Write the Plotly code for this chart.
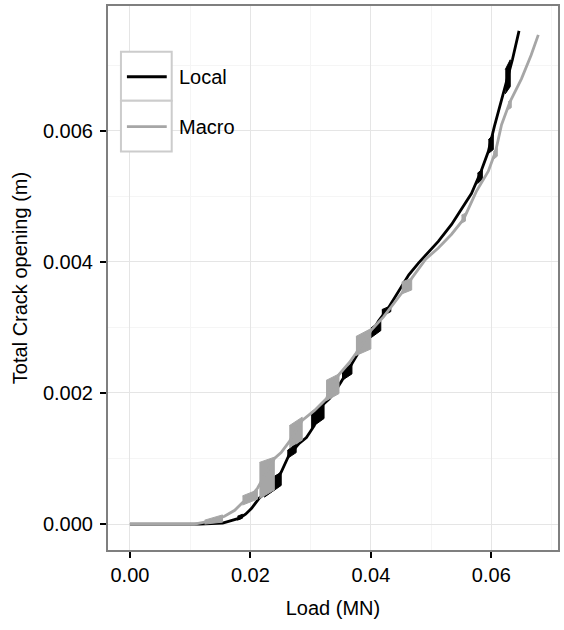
import plotly.graph_objects as go

# ---- data (Load in MN, total crack opening in m) ----
local_load = [0.0, 0.0116, 0.0154, 0.0169, 0.0182, 0.0192, 0.0202, 0.0215, 0.0231, 0.0251,
              0.0264, 0.0281, 0.0293, 0.0306, 0.0319, 0.0331, 0.0342, 0.0352, 0.0364, 0.0375,
              0.0388, 0.0400, 0.0413, 0.0430, 0.0446, 0.0463, 0.0479, 0.0496, 0.0512, 0.0534,
              0.0550, 0.0567, 0.0583, 0.0595, 0.0605, 0.0615, 0.0625, 0.0635, 0.0646]
local_open = [0.0, 0.0, 0.000015, 0.00005, 0.00009, 0.00015, 0.00024, 0.00040, 0.00052, 0.00079,
              0.00105, 0.00123, 0.00132, 0.00150, 0.00181, 0.00191, 0.00204, 0.00219, 0.00237, 0.00254,
              0.00275, 0.00290, 0.00310, 0.00331, 0.00355, 0.00380, 0.00398, 0.00415, 0.00431, 0.00457,
              0.00480, 0.00504, 0.00538, 0.00568, 0.00606, 0.00640, 0.00674, 0.00708, 0.00752]

macro_load = [0.0, 0.0107, 0.0124, 0.0140, 0.0157, 0.0174, 0.0187, 0.0202, 0.0212, 0.0240,
              0.0251, 0.0264, 0.0286, 0.0306, 0.0326, 0.0336, 0.0347, 0.0364, 0.0375, 0.0400,
              0.0421, 0.0438, 0.0451, 0.0468, 0.0491, 0.0512, 0.0534, 0.0554, 0.0575, 0.0595,
              0.0607, 0.0617, 0.0631, 0.0650, 0.0666, 0.0678]
macro_open = [0.0, 0.0, 0.00003, 0.00006, 0.00012, 0.00021, 0.00033, 0.00043, 0.00055, 0.00100,
              0.00109, 0.00125, 0.00158, 0.00173, 0.00191, 0.00211, 0.00228, 0.00246, 0.00260, 0.00295,
              0.00316, 0.00337, 0.00352, 0.00375, 0.00404, 0.00421, 0.00442, 0.00465, 0.00507, 0.00538,
              0.00568, 0.00609, 0.00644, 0.00679, 0.00715, 0.00746]

# oscillation bands (load cycling at near-constant level), corners of each band
local_band_load = [0.01785, 0.01868, 0.01868, 0.01785, None,
                   0.02231, 0.02512, 0.02512, 0.02231, None,
                   0.02612, 0.02760, 0.02760, 0.02612, None,
                   0.03008, 0.03223, 0.03223, 0.03008, None,
                   0.03521, 0.03686, 0.03686, 0.03521, None,
                   0.04000, 0.04165, 0.04165, 0.04000, None,
                   0.04182, 0.04331, 0.04331, 0.04182, None,
                   0.05769, 0.05851, 0.05851, 0.05769, None,
                   0.05950, 0.06033, 0.06033, 0.05950, None,
                   0.06231, 0.06314, 0.06314, 0.06231]
local_band_open = [0.00006, 0.00009, 0.00015, 0.00012, None,
                   0.00041, 0.00059, 0.00079, 0.00064, None,
                   0.00100, 0.00109, 0.00123, 0.00112, None,
                   0.00147, 0.00161, 0.00188, 0.00170, None,
                   0.00219, 0.00229, 0.00245, 0.00234, None,
                   0.00284, 0.00295, 0.00310, 0.00299, None,
                   0.00317, 0.00324, 0.00333, 0.00327, None,
                   0.00519, 0.00526, 0.00541, 0.00535, None,
                   0.00565, 0.00571, 0.00594, 0.00586, None,
                   0.00656, 0.00667, 0.00708, 0.00693]

macro_band_load = [0.01240, 0.01537, 0.01537, 0.01240, None,
                   0.01868, 0.02116, 0.02116, 0.01868, None,
                   0.02149, 0.02397, 0.02397, 0.02149, None,
                   0.02645, 0.02860, 0.02860, 0.02645, None,
                   0.03256, 0.03471, 0.03471, 0.03256, None,
                   0.03752, 0.04000, 0.04000, 0.03752, None,
                   0.04512, 0.04678, 0.04678, 0.04512, None,
                   0.05504, 0.05570, 0.05570, 0.05504, None,
                   0.06033, 0.06099, 0.06099, 0.06033, None,
                   0.06281, 0.06331, 0.06331, 0.06281]
macro_band_open = [0.0, 0.00003, 0.00014, 0.00006, None,
                   0.00029, 0.00038, 0.00052, 0.00043, None,
                   0.00039, 0.00052, 0.00102, 0.00094, None,
                   0.00117, 0.00128, 0.00163, 0.00150, None,
                   0.00188, 0.00199, 0.00229, 0.00219, None,
                   0.00257, 0.00267, 0.00298, 0.00286, None,
                   0.00351, 0.00357, 0.00375, 0.00369, None,
                   0.00459, 0.00462, 0.00474, 0.00471, None,
                   0.00556, 0.00561, 0.00573, 0.00568, None,
                   0.00632, 0.00635, 0.00647, 0.00644]

series_names = ["Local", "Macro"]
series_colors = ["#000000", "#A6A6A6"]

x_ticks = [0.00, 0.02, 0.04, 0.06]
x_tick_labels = ["0.00", "0.02", "0.04", "0.06"]
y_ticks = [0.000, 0.002, 0.004, 0.006]
y_tick_labels = ["0.000", "0.002", "0.004", "0.006"]

FONT = "Liberation Sans, Arial, Helvetica, sans-serif"

fig = go.Figure()

for (lx, ly, bx, by), name, col in zip(
        [(local_load, local_open, local_band_load, local_band_open),
         (macro_load, macro_open, macro_band_load, macro_band_open)],
        series_names, series_colors):
    fig.add_trace(go.Scatter(x=bx, y=by, mode="lines", fill="toself", fillcolor=col,
                             line=dict(color=col, width=1), hoverinfo="skip",
                             showlegend=False, connectgaps=False))
    fig.add_trace(go.Scatter(x=lx, y=ly, mode="lines", name=name,
                             line=dict(color=col, width=2.8), showlegend=False))

# ---- legend drawn ggplot-style (keys with grey borders) ----
def px_x(p):
    return (p - 108) / 452.0

def px_y(p):
    return (550 - p) / 546.0

shapes = []
for top, bot in [(50, 99), (99, 150)]:
    shapes.append(dict(type="rect", xref="paper", yref="paper",
                       x0=px_x(121), x1=px_x(172), y0=px_y(bot), y1=px_y(top),
                       line=dict(color="#CCCCCC", width=2), fillcolor="white", layer="above"))
annotations = []
for yc, name, col in zip([75, 125], series_names, series_colors):
    shapes.append(dict(type="line", xref="paper", yref="paper",
                       x0=px_x(127), x1=px_x(167), y0=px_y(yc), y1=px_y(yc),
                       line=dict(color=col, width=2.8), layer="above"))
    annotations.append(dict(xref="paper", yref="paper", x=px_x(177), y=px_y(yc),
                            text=name, showarrow=False, xanchor="left", yanchor="middle",
                            font=dict(family=FONT, size=20, color="black")))

axis_common = dict(showline=True, mirror=True, linecolor="#7F7F7F", linewidth=2,
                   ticks="outside", ticklen=6, tickwidth=2, tickcolor="black",
                   showgrid=True, gridcolor="#E5E5E5", gridwidth=1.2,
                   zeroline=False, tickfont=dict(family=FONT, size=20, color="black"),
                   title_font=dict(family=FONT, size=20, color="black"))

fig.update_layout(
    width=564, height=630,
    margin=dict(l=108, r=4, t=4, b=80),
    paper_bgcolor="white", plot_bgcolor="white",
    shapes=shapes, annotations=annotations,
    xaxis=dict(range=[-0.00364, 0.07107], tickvals=x_ticks, ticktext=x_tick_labels,
               title=dict(text="Load (MN)", standoff=16),
               minor=dict(dtick=0.01, tick0=0, showgrid=True, gridcolor="#F5F5F5", gridwidth=1),
               **axis_common),
    yaxis=dict(range=[-0.000395, 0.0079], tickvals=y_ticks, ticktext=y_tick_labels,
               ticklabelstandoff=3,
               title=dict(text="Total Crack opening (m)", standoff=10),
               minor=dict(dtick=0.001, tick0=0, showgrid=True, gridcolor="#F5F5F5", gridwidth=1),
               **axis_common),
)

fig.write_html("out.html")
